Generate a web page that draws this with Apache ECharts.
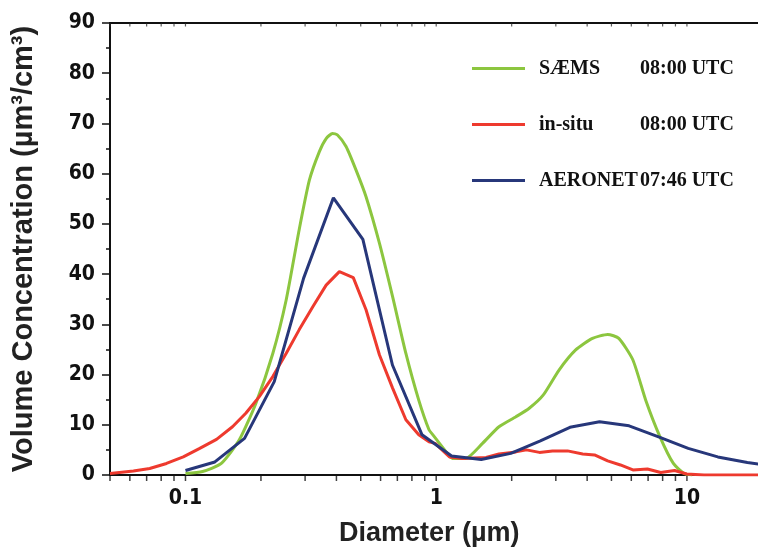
<!DOCTYPE html>
<html>
<head>
<meta charset="utf-8">
<script src="https://cdn.jsdelivr.net/npm/echarts@6/dist/echarts.min.js"></script>
<style>
  html, body { margin: 0; padding: 0; background: #fff; }
  #chart { width: 758px; height: 547px; }
</style>
</head>
<body>
<div id="chart"></div>
<script>
  // SAEMS 08:00 UTC
  var saemsD = [0.1, 0.117, 0.139, 0.164, 0.191, 0.223, 0.252, 0.284, 0.312, 0.342, 0.364, 0.386, 0.404, 0.437, 0.479, 0.525, 0.594, 0.67, 0.757, 0.852, 0.936, 0.97, 1.08, 1.16, 1.31, 1.53, 1.78, 2.08, 2.35, 2.67, 3.09, 3.6, 4.2, 4.83, 5.35, 6.09, 6.85, 7.81, 8.83, 9.75, 10.5];
  var saemsV = [0.3, 0.7, 2.3, 7.0, 14.3, 24.2, 34.8, 48.8, 58.7, 64.4, 67.0, 68.0, 67.7, 65.4, 60.7, 55.4, 46.1, 35.5, 24.2, 14.9, 9.0, 8.0, 5.0, 3.3, 3.3, 6.3, 9.6, 11.6, 13.3, 15.9, 20.9, 24.9, 27.2, 28.0, 27.2, 22.9, 14.9, 7.6, 2.3, 0.3, 0];

  // in-situ 08:00 UTC
  var insituD = [0.05, 0.062, 0.072, 0.084, 0.098, 0.114, 0.133, 0.154, 0.174, 0.197, 0.223, 0.252, 0.284, 0.322, 0.364, 0.411, 0.467, 0.525, 0.594, 0.67, 0.757, 0.852, 0.936, 0.99, 1.13, 1.27, 1.58, 1.78, 2.08, 2.29, 2.58, 2.91, 3.34, 3.84, 4.28, 4.83, 5.43, 6.09, 6.96, 7.86, 8.93, 9.98, 11.7, 20];
  var insituV = [0.3, 0.8, 1.3, 2.3, 3.6, 5.3, 7.1, 9.6, 12.3, 15.6, 19.6, 24.2, 28.9, 33.5, 37.8, 40.5, 39.3, 32.9, 23.9, 17.3, 11.0, 8.0, 6.6, 6.3, 3.6, 3.3, 3.5, 4.2, 4.6, 5.0, 4.5, 4.8, 4.8, 4.2, 4.0, 2.8, 2.0, 1.0, 1.2, 0.5, 0.9, 0.2, 0, 0];

  // AERONET 07:46 UTC
  var aeronetD = [0.1, 0.131, 0.172, 0.226, 0.296, 0.389, 0.51, 0.669, 0.878, 1.152, 1.512, 1.984, 2.603, 3.415, 4.481, 5.88, 7.71, 10.12, 13.28, 17.42, 22.86];
  var aeronetV = [0.9, 2.6, 7.3, 18.6, 39.2, 55.2, 46.9, 21.9, 8.0, 3.8, 3.1, 4.3, 6.8, 9.5, 10.6, 9.8, 7.6, 5.3, 3.6, 2.5, 1.7];

  var xLabelValues = [0.1, 1, 10];
  var xTickValues = [0.05, 0.06, 0.07, 0.08, 0.09, 0.1, 0.2, 0.3, 0.4, 0.5, 0.6, 0.7, 0.8, 0.9, 1, 2, 3, 4, 5, 6, 7, 8, 9, 10, 20];

  function pairs(d, v) {
    var out = [];
    for (var i = 0; i < d.length; i++) out.push([d[i], v[i]]);
    return out;
  }
  function tickPoints(vals, y) {
    return vals.map(function (v) { return [v, y]; });
  }

  var tickFont = "'Liberation Sans Narrow', 'DejaVu Sans Condensed', 'Liberation Sans', sans-serif";
  var titleFont = "'Liberation Sans', Arial, sans-serif";
  var legendFont = "'Liberation Serif', 'Times New Roman', serif";

  var chart = echarts.init(document.getElementById('chart'));
  chart.setOption({
    animation: false,
    grid: { left: 110, right: -4.4, top: 23, bottom: 72, outerBoundsMode: 'none' },
    legend: {
      orient: 'vertical',
      left: 472,
      top: 58.5,
      padding: 0,
      icon: 'rect',
      itemWidth: 53,
      itemHeight: 3,
      itemGap: 36,
      selectedMode: false,
      data: ['SÆMS', 'in-situ', 'AERONET'],
      formatter: function (name) {
        var times = { 'SÆMS': '08:00 UTC', 'in-situ': '08:00 UTC', 'AERONET': '07:46 UTC' };
        return '{g|}{n|' + name + '}{t|' + times[name] + '}';
      },
      textStyle: {
        rich: {
          g: { width: 9 },
          n: { width: 101, fontFamily: legendFont, fontWeight: 'bold', fontSize: 20, color: '#111' },
          t: { fontFamily: legendFont, fontWeight: 'bold', fontSize: 20, color: '#111' }
        }
      }
    },
    xAxis: [{
      type: 'log',
      logBase: 10,
      min: 0.05,
      max: 20,
      name: 'Diameter (µm)',
      nameLocation: 'middle',
      nameGap: 45,
      nameTextStyle: { fontFamily: titleFont, fontWeight: 'bold', fontSize: 27, color: '#222', padding: [0, 14, 0, 0] },
      axisLine: { lineStyle: { color: '#111', width: 2 } },
      axisTick: { show: false },
      axisLabel: {
        margin: 13,
        fontFamily: tickFont, fontWeight: 'bold', fontSize: 21, color: '#111',
        customValues: xLabelValues,
        formatter: function (v) { return String(v); }
      },
      splitLine: { show: false },
      minorTick: { show: false }
    }, {
      type: 'log',
      logBase: 10,
      position: 'top',
      min: 0.05,
      max: 20,
      axisLine: { lineStyle: { color: '#111', width: 2 } },
      axisTick: { show: false },
      axisLabel: { show: false },
      splitLine: { show: false }
    }],
    yAxis: {
      type: 'value',
      min: 0,
      max: 90,
      interval: 10,
      name: 'Volume Concentration (µm³/cm³)',
      nameLocation: 'middle',
      nameGap: 72,
      nameTextStyle: { fontFamily: titleFont, fontWeight: 'bold', fontSize: 29, color: '#222' },
      axisLine: { show: true, lineStyle: { color: '#111', width: 2 } },
      axisTick: { show: true, length: 8, lineStyle: { color: '#111', width: 1.5 } },
      minorTick: { show: true, splitNumber: 2, length: 4, lineStyle: { color: '#111', width: 1.5 } },
      axisLabel: { margin: 15, fontFamily: tickFont, fontWeight: 'bold', fontSize: 21, color: '#111' },
      splitLine: { show: false }
    },
    series: [{
      name: 'SÆMS',
      type: 'line',
      data: pairs(saemsD, saemsV),
      showSymbol: false,
      smooth: 0.2,
      color: '#8cc63f',
      lineStyle: { width: 3, color: '#8cc63f' },
      z: 2
    }, {
      name: 'in-situ',
      type: 'line',
      data: pairs(insituD, insituV),
      showSymbol: false,
      color: '#ee3a2e',
      lineStyle: { width: 3, color: '#ee3a2e' },
      z: 3
    }, {
      name: 'AERONET',
      type: 'line',
      data: pairs(aeronetD, aeronetV),
      showSymbol: false,
      color: '#27377a',
      lineStyle: { width: 3, color: '#27377a' },
      z: 4
    }, {
      // log ticks below the bottom axis
      name: 'xticks',
      type: 'scatter',
      data: tickPoints(xTickValues, 0),
      symbol: 'rect',
      symbolSize: [1.5, 5],
      symbolOffset: [0, 3.5],
      clip: false,
      silent: true,
      itemStyle: { color: '#111' },
      z: 5
    }, {
      // small inward ticks on the top axis
      name: 'xticksTop',
      type: 'scatter',
      data: tickPoints(xTickValues, 90),
      symbol: 'rect',
      symbolSize: [1.2, 3],
      symbolOffset: [0, 2],
      clip: false,
      silent: true,
      itemStyle: { color: '#333' },
      z: 5
    }]
  });
</script>
</body>
</html>
